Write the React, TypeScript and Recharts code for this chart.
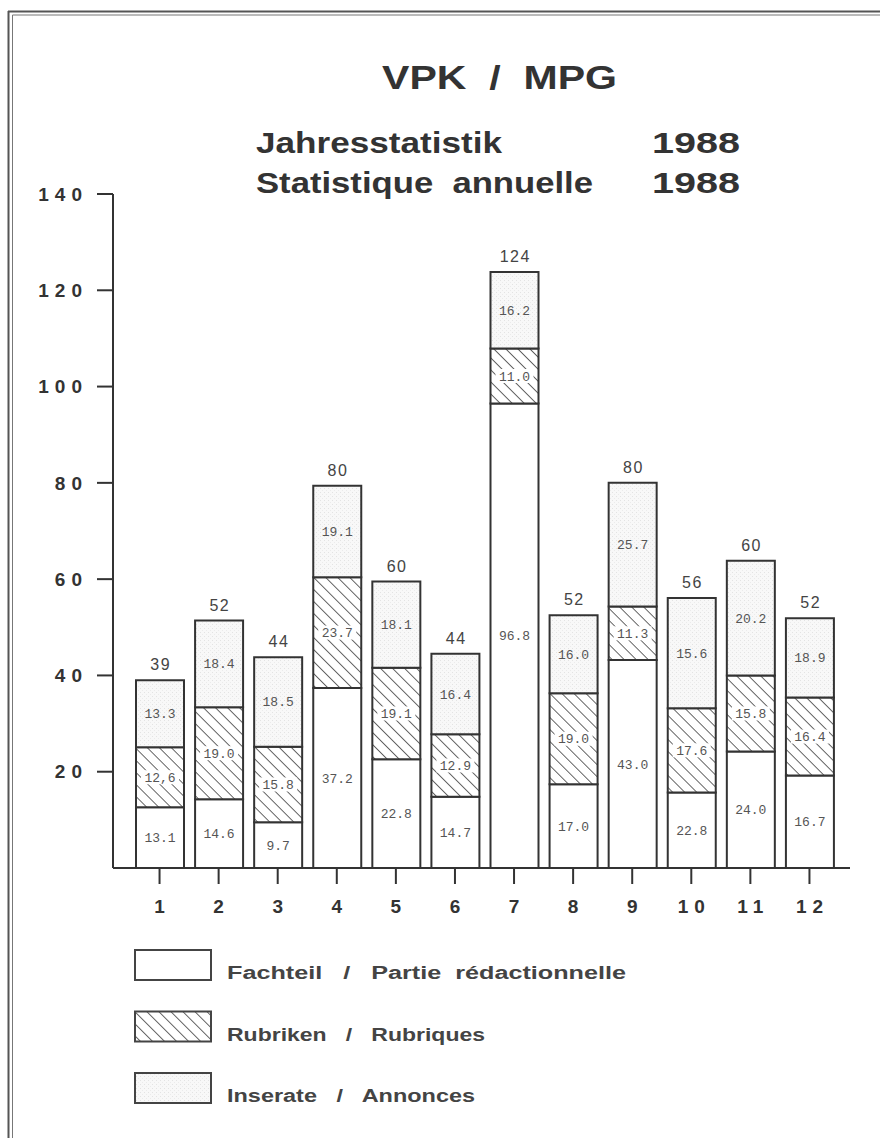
import { BarChart, Bar, XAxis, YAxis, LabelList } from 'recharts';

// months on the x axis
const months = ['1', '2', '3', '4', '5', '6', '7', '8', '9', '10', '11', '12'];

// segment heights as drawn in the picture
const fachteil = [12.6, 14.3, 9.5, 37.4, 22.6, 14.8, 96.5, 17.4, 43.2, 15.7, 24.2, 19.2];
const rubriken = [12.5, 19.1, 15.7, 23.0, 19.0, 13.0, 11.4, 18.9, 11.1, 17.5, 15.8, 16.2];
const inserate = [13.9, 18.0, 18.6, 19.0, 17.9, 16.7, 15.9, 16.2, 25.7, 22.9, 23.8, 16.5];

// printed numbers
const fachteilLabels = ['13.1', '14.6', '9.7', '37.2', '22.8', '14.7', '96.8', '17.0', '43.0', '22.8', '24.0', '16.7'];
const rubrikenLabels = ['12,6', '19.0', '15.8', '23.7', '19.1', '12.9', '11.0', '19.0', '11.3', '17.6', '15.8', '16.4'];
const inserateLabels = ['13.3', '18.4', '18.5', '19.1', '18.1', '16.4', '16.2', '16.0', '25.7', '15.6', '20.2', '18.9'];
const totals = ['39', '52', '44', '80', '60', '44', '124', '52', '80', '56', '60', '52'];

const yTicks = [20, 40, 60, 80, 100, 120, 140];

const legendNames = ['Fachteil   /   Partie  rédactionnelle', 'Rubriken   /   Rubriques', 'Inserate   /   Annonces'];
const legendFills = ['#ffffff', 'url(#hatch)', 'url(#stipple)'];

const data = months.map((m, i) => ({
  month: m,
  fachteil: fachteil[i],
  rubriken: rubriken[i],
  inserate: inserate[i],
  fLabel: fachteilLabels[i],
  rLabel: rubrikenLabels[i],
  iLabel: inserateLabels[i],
  total: totals[i],
}));

const INK = '#333';
const SANS = '"Liberation Sans", Arial, Helvetica, sans-serif';

const innerLabel = (boxed: boolean) => (props: any) => {
  const { x, y, width, height, value } = props;
  const cx = Number(x) + Number(width) / 2;
  const cy = Number(y) + Number(height) / 2;
  return (
    <g>
      {boxed && <rect x={cx - 19} y={cy - 7} width={38} height={14} fill="#fff" />}
      <text x={cx} y={cy} dy="0.35em" textAnchor="middle" fontFamily='"Liberation Mono", monospace' fontSize={13} fill="#555">
        {value}
      </text>
    </g>
  );
};

const totalLabel = (props: any) => {
  const { x, y, width, value } = props;
  return (
    <text x={Number(x) + Number(width) / 2 + 0.75} y={Number(y) - 10} textAnchor="middle" fontFamily={SANS} fontSize={16} letterSpacing={1.5} fill="#444">
      {value}
    </text>
  );
};

const YTick = (props: any) => {
  const { x, y, payload } = props;
  return (
    <text x={x} y={y} dy="0.35em" textAnchor="end" fontFamily={SANS} fontWeight="bold" fontSize={19} letterSpacing={6} fill={INK}>
      {payload.value}
    </text>
  );
};

const XTick = (props: any) => {
  const { x, y, payload } = props;
  const ls = payload.value.length > 1 ? 6 : 0;
  return (
    <text x={x + ls / 2} y={y} dy={29} textAnchor="middle" fontFamily={SANS} fontWeight="bold" fontSize={19} letterSpacing={ls} fill={INK}>
      {payload.value}
    </text>
  );
};

export default function App() {
  return (
    <div style={{ position: 'absolute', left: 0, top: 0, width: 880, height: 1138, overflow: 'hidden', background: '#fff' }}>
      <svg width={880} height={1138} style={{ position: 'absolute', left: 0, top: 0 }}>
        <defs>
          <pattern id="hatch" width={8.5} height={8.5} patternUnits="userSpaceOnUse" patternTransform="rotate(-45)">
            <rect width={8.5} height={8.5} fill="#fff" />
            <line x1={0} y1={-1} x2={0} y2={10} stroke={INK} strokeWidth={1.5} />
          </pattern>
          <pattern id="stipple" width={4} height={4} patternUnits="userSpaceOnUse">
            <rect width={4} height={4} fill="#f8f8f8" />
            <rect x={0} y={0} width={1} height={1} fill="#e3e3e3" />
            <rect x={2} y={2} width={1} height={1} fill="#ebebeb" />
          </pattern>
        </defs>
      </svg>

      <div style={{ position: 'absolute', left: 0, top: 0 }}>
        <BarChart width={880} height={1138} data={data} margin={{ top: 194, right: 30, bottom: 240, left: 53 }}>
          <XAxis
            dataKey="month"
            height={30}
            padding={{ left: 17, right: 11 }}
            axisLine={{ stroke: INK, strokeWidth: 2 }}
            tickLine={{ stroke: INK, strokeWidth: 2 }}
            tickSize={16}
            tickMargin={0}
            tick={<XTick />}
            interval={0}
          />
          <YAxis
            width={60}
            domain={[0, 140]}
            ticks={yTicks}
            axisLine={{ stroke: INK, strokeWidth: 2 }}
            tickLine={{ stroke: INK, strokeWidth: 2 }}
            tickSize={16}
            tickMargin={9}
            tick={<YTick />}
          />
          <Bar dataKey="fachteil" stackId="a" barSize={48} fill="#fff" stroke={INK} strokeWidth={2} isAnimationActive={false}>
            <LabelList dataKey="fLabel" content={innerLabel(false)} />
          </Bar>
          <Bar dataKey="rubriken" stackId="a" barSize={48} fill="url(#hatch)" stroke={INK} strokeWidth={2} isAnimationActive={false}>
            <LabelList dataKey="rLabel" content={innerLabel(true)} />
          </Bar>
          <Bar dataKey="inserate" stackId="a" barSize={48} fill="url(#stipple)" stroke={INK} strokeWidth={2} isAnimationActive={false}>
            <LabelList dataKey="iLabel" content={innerLabel(false)} />
            <LabelList dataKey="total" content={totalLabel} />
          </Bar>
        </BarChart>
      </div>

      <svg width={880} height={1138} style={{ position: 'absolute', left: 0, top: 0, pointerEvents: 'none' }}>
        {/* frame */}
        <line x1={8} y1={11.5} x2={880} y2={11.5} stroke="#555" strokeWidth={2} />
        <line x1={12.5} y1={15} x2={880} y2={15} stroke="#777" strokeWidth={1} />
        <line x1={8.5} y1={11} x2={8.5} y2={1138} stroke="#555" strokeWidth={2} />
        <line x1={12.5} y1={15} x2={12.5} y2={1138} stroke="#777" strokeWidth={1} />

        {/* titles */}
        <text x={382} y={89} textLength={235} lengthAdjust="spacingAndGlyphs" fontFamily={SANS} fontWeight="bold" fontSize={33} fill={INK} style={{ whiteSpace: 'pre' }}>
          {'VPK  /  MPG'}
        </text>
        <text x={256} y={153} textLength={246} lengthAdjust="spacingAndGlyphs" fontFamily={SANS} fontWeight="bold" fontSize={29} fill={INK}>
          Jahresstatistik
        </text>
        <text x={652} y={153} textLength={88} lengthAdjust="spacingAndGlyphs" fontFamily={SANS} fontWeight="bold" fontSize={29} fill={INK}>
          1988
        </text>
        <text x={256} y={193} textLength={337} lengthAdjust="spacingAndGlyphs" fontFamily={SANS} fontWeight="bold" fontSize={29} fill={INK} style={{ whiteSpace: 'pre' }}>
          {'Statistique  annuelle'}
        </text>
        <text x={652} y={193} textLength={88} lengthAdjust="spacingAndGlyphs" fontFamily={SANS} fontWeight="bold" fontSize={29} fill={INK}>
          1988
        </text>

        {/* legend */}
        {legendNames.map((name, i) => {
          const top = 950 + i * 61.5;
          const lens = [399, 258, 248];
          return (
            <g key={name}>
              <rect x={135} y={top} width={76} height={30} fill={legendFills[i]} stroke="#444" strokeWidth={2} />
              <text x={227} y={top + 29} textLength={lens[i]} lengthAdjust="spacingAndGlyphs" fontFamily={SANS} fontWeight="bold" fontSize={18} fill="#444" style={{ whiteSpace: 'pre' }}>
                {name}
              </text>
            </g>
          );
        })}
      </svg>
    </div>
  );
}
